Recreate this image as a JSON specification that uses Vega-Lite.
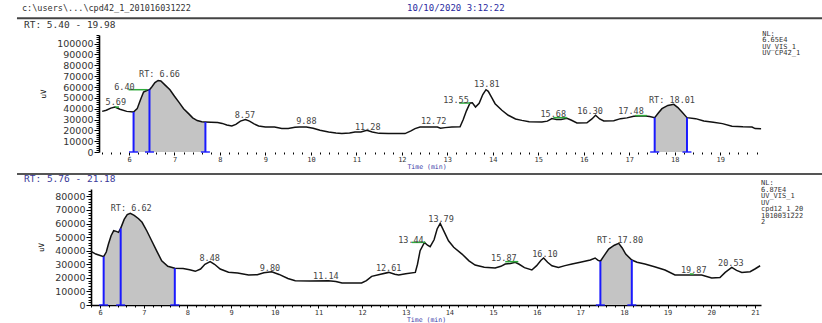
{
  "$schema": "https://vega.github.io/schema/vega-lite/v6.json",
  "background": "white",
  "padding": {"left": 15, "top": 3, "right": 0, "bottom": 0},
  "spacing": 3,
  "config": {
    "view": {"stroke": null},
    "font": "DejaVu Sans Mono",
    "axis": {"domainColor": "#000", "domainWidth": 1.6, "tickColor": "#000", "labelColor": "#333", "labelFont": "DejaVu Sans", "titleFont": "DejaVu Sans Mono", "titleFontWeight": "normal", "grid": false, "labelOverlap": false}
  },
  "datasets": {
    "top_trace": [
      {"t":5.41,"v":37500},{"t":5.5,"v":38500},{"t":5.6,"v":40500},{"t":5.69,"v":41500},{"t":5.8,"v":39500},{"t":5.95,"v":37500},{"t":6.1,"v":36900},{"t":6.18,"v":40000},{"t":6.25,"v":48000},{"t":6.32,"v":55300},{"t":6.4,"v":57000},{"t":6.45,"v":57500},{"t":6.5,"v":60000},{"t":6.57,"v":64000},{"t":6.64,"v":66000},{"t":6.7,"v":65500},{"t":6.8,"v":61500},{"t":6.9,"v":57500},{"t":7.0,"v":51500},{"t":7.1,"v":45800},{"t":7.2,"v":40000},{"t":7.31,"v":35400},{"t":7.4,"v":31500},{"t":7.5,"v":29000},{"t":7.6,"v":27900},{"t":7.68,"v":27700},{"t":7.8,"v":27500},{"t":7.95,"v":27300},{"t":8.05,"v":26400},{"t":8.15,"v":25000},{"t":8.26,"v":24000},{"t":8.35,"v":25500},{"t":8.45,"v":28500},{"t":8.56,"v":29900},{"t":8.65,"v":28500},{"t":8.75,"v":26000},{"t":8.85,"v":24000},{"t":9.0,"v":23100},{"t":9.2,"v":23000},{"t":9.36,"v":21800},{"t":9.5,"v":21800},{"t":9.65,"v":22800},{"t":9.75,"v":23100},{"t":9.9,"v":23100},{"t":10.05,"v":22000},{"t":10.2,"v":20000},{"t":10.39,"v":18500},{"t":10.55,"v":17500},{"t":10.68,"v":17000},{"t":10.85,"v":17500},{"t":10.97,"v":18500},{"t":11.1,"v":18500},{"t":11.23,"v":20000},{"t":11.35,"v":18500},{"t":11.5,"v":17200},{"t":11.7,"v":17000},{"t":12.07,"v":17000},{"t":12.2,"v":19500},{"t":12.29,"v":21600},{"t":12.4,"v":23000},{"t":12.6,"v":23100},{"t":12.78,"v":23100},{"t":12.85,"v":22000},{"t":12.95,"v":22500},{"t":13.1,"v":23000},{"t":13.28,"v":23300},{"t":13.35,"v":30000},{"t":13.42,"v":38000},{"t":13.5,"v":45200},{"t":13.55,"v":45500},{"t":13.62,"v":41500},{"t":13.7,"v":45000},{"t":13.78,"v":53000},{"t":13.85,"v":57500},{"t":13.9,"v":56000},{"t":13.98,"v":50000},{"t":14.05,"v":44600},{"t":14.2,"v":38500},{"t":14.34,"v":33900},{"t":14.5,"v":30500},{"t":14.64,"v":29200},{"t":14.8,"v":27900},{"t":15.08,"v":27700},{"t":15.2,"v":28500},{"t":15.3,"v":30800},{"t":15.4,"v":30000},{"t":15.5,"v":30000},{"t":15.63,"v":31200},{"t":15.72,"v":29500},{"t":15.85,"v":26800},{"t":16.07,"v":27000},{"t":16.18,"v":30500},{"t":16.26,"v":33900},{"t":16.35,"v":30500},{"t":16.44,"v":28600},{"t":16.66,"v":28800},{"t":16.81,"v":30800},{"t":16.95,"v":31500},{"t":17.1,"v":32900},{"t":17.3,"v":33500},{"t":17.45,"v":32800},{"t":17.56,"v":31700},{"t":17.64,"v":36000},{"t":17.72,"v":40000},{"t":17.85,"v":43000},{"t":17.98,"v":44000},{"t":18.07,"v":41000},{"t":18.16,"v":36900},{"t":18.27,"v":31700},{"t":18.46,"v":30800},{"t":18.64,"v":28600},{"t":18.85,"v":27500},{"t":19.05,"v":26200},{"t":19.26,"v":23700},{"t":19.5,"v":23200},{"t":19.7,"v":23100},{"t":19.77,"v":21600},{"t":19.9,"v":21500}
    ],
    "bottom_trace": [
      {"t":5.79,"v":39500},{"t":5.9,"v":37500},{"t":6.0,"v":36500},{"t":6.08,"v":35600},{"t":6.14,"v":39000},{"t":6.19,"v":44900},{"t":6.25,"v":51000},{"t":6.31,"v":54700},{"t":6.37,"v":54200},{"t":6.42,"v":53500},{"t":6.47,"v":56400},{"t":6.55,"v":63000},{"t":6.62,"v":66500},{"t":6.69,"v":67500},{"t":6.78,"v":66000},{"t":6.88,"v":63500},{"t":6.96,"v":60900},{"t":7.07,"v":54500},{"t":7.18,"v":47300},{"t":7.3,"v":39500},{"t":7.41,"v":32600},{"t":7.55,"v":28500},{"t":7.71,"v":27000},{"t":7.9,"v":26800},{"t":8.05,"v":26000},{"t":8.18,"v":24800},{"t":8.3,"v":26500},{"t":8.4,"v":30000},{"t":8.52,"v":31900},{"t":8.62,"v":30000},{"t":8.75,"v":26500},{"t":8.94,"v":24100},{"t":9.15,"v":23500},{"t":9.4,"v":22100},{"t":9.6,"v":22300},{"t":9.75,"v":23800},{"t":9.93,"v":24500},{"t":10.1,"v":22500},{"t":10.3,"v":19500},{"t":10.47,"v":17900},{"t":10.8,"v":17700},{"t":11.23,"v":17900},{"t":11.4,"v":17300},{"t":11.54,"v":16200},{"t":11.99,"v":16200},{"t":12.1,"v":18000},{"t":12.22,"v":21100},{"t":12.4,"v":22500},{"t":12.61,"v":24000},{"t":12.75,"v":22600},{"t":12.84,"v":22100},{"t":13.0,"v":23000},{"t":13.22,"v":24000},{"t":13.27,"v":30000},{"t":13.33,"v":40000},{"t":13.43,"v":46100},{"t":13.5,"v":44000},{"t":13.56,"v":42900},{"t":13.65,"v":48000},{"t":13.72,"v":56000},{"t":13.79,"v":60100},{"t":13.88,"v":54000},{"t":13.98,"v":47300},{"t":14.1,"v":42500},{"t":14.29,"v":37500},{"t":14.45,"v":32500},{"t":14.59,"v":29400},{"t":14.8,"v":27800},{"t":15.05,"v":27200},{"t":15.18,"v":28500},{"t":15.28,"v":30200},{"t":15.4,"v":30500},{"t":15.51,"v":31400},{"t":15.6,"v":30000},{"t":15.72,"v":27500},{"t":15.89,"v":25800},{"t":16.0,"v":29000},{"t":16.1,"v":33000},{"t":16.16,"v":34600},{"t":16.25,"v":31500},{"t":16.35,"v":28900},{"t":16.5,"v":27700},{"t":16.65,"v":29000},{"t":16.81,"v":30200},{"t":17.0,"v":31500},{"t":17.23,"v":33100},{"t":17.34,"v":34600},{"t":17.4,"v":33000},{"t":17.46,"v":32200},{"t":17.55,"v":36500},{"t":17.65,"v":41200},{"t":17.78,"v":44000},{"t":17.88,"v":45400},{"t":17.96,"v":42000},{"t":18.04,"v":37500},{"t":18.18,"v":33100},{"t":18.3,"v":31500},{"t":18.48,"v":30200},{"t":18.7,"v":28200},{"t":18.94,"v":25800},{"t":19.17,"v":22100},{"t":19.5,"v":22100},{"t":19.78,"v":22100},{"t":20.01,"v":19900},{"t":20.2,"v":20200},{"t":20.32,"v":24000},{"t":20.47,"v":27700},{"t":20.58,"v":25500},{"t":20.7,"v":24000},{"t":20.89,"v":24500},{"t":21.0,"v":26500},{"t":21.12,"v":28900}
    ],
    "top_bounds": [{"t":6.1,"v":36900},{"t":6.45,"v":57500},{"t":7.68,"v":27700},{"t":17.56,"v":31700},{"t":18.27,"v":31700}],
    "bottom_bounds": [{"t":6.08,"v":35600},{"t":6.47,"v":56400},{"t":7.71,"v":27000},{"t":17.46,"v":32200},{"t":18.18,"v":33100}],
    "top_axisline": [{"t":5.34,"t2":19.92}],
    "bottom_base": [{"t":6.08,"t2":7.71},{"t":17.46,"t2":18.18}],
    "top_green": [{"t":5.69,"t2":5.78,"v":41500},{"t":5.99,"t2":6.4,"v":57500},{"t":13.26,"t2":13.5,"v":45200},{"t":15.33,"t2":15.63,"v":31700},{"t":17.13,"t2":17.39,"v":33600}],
    "bottom_green": [{"t":13.14,"t2":13.45,"v":46100},{"t":15.28,"t2":15.58,"v":31900},{"t":19.51,"t2":19.6,"v":22800}],
    "top_labels": [
      {"label":"5.69","t":5.71,"v":46100},{"label":"6.40","t":5.9,"v":60000},{"label":"RT: 6.66","t":6.67,"v":71700},{"label":"8.57","t":8.55,"v":33900},{"label":"9.88","t":9.9,"v":28600},{"label":"11.28","t":11.25,"v":23100},{"label":"12.72","t":12.7,"v":28600},{"label":"13.55","t":13.19,"v":47700},{"label":"13.81","t":13.87,"v":62500},{"label":"15.68","t":15.33,"v":34800},{"label":"16.30","t":16.14,"v":37800},{"label":"17.48","t":17.04,"v":37800},{"label":"RT: 18.01","t":17.94,"v":47700}
    ],
    "bottom_labels": [
      {"label":"RT: 6.62","t":6.71,"v":71200},{"label":"8.48","t":8.51,"v":34400},{"label":"9.80","t":9.89,"v":27000},{"label":"11.14","t":11.17,"v":21600},{"label":"12.61","t":12.61,"v":27000},{"label":"13.44","t":13.12,"v":47800},{"label":"13.79","t":13.81,"v":63300},{"label":"15.87","t":15.25,"v":34400},{"label":"16.10","t":16.19,"v":37500},{"label":"RT: 17.80","t":17.91,"v":47800},{"label":"19.87","t":19.6,"v":25800},{"label":"20.53","t":20.45,"v":30700}
    ],
    "top_lines": [{"t":3.536,"t2":21.28,"v":123400}],
    "bottom_lines": [{"t":4.095,"t2":22.58,"v":96440}],
    "top_notes": [
      {"kind":"path","label":"c:\\users\\...\\cpd42_1_201016031222","t":3.646,"v":133300},
      {"kind":"date","label":"10/10/2020 3:12:22","t":12.115,"v":133300},
      {"kind":"rt","label":"RT: 5.40 - 19.98","t":3.69,"v":116950},
      {"kind":"side","label":"NL:\n6.65E4\nUV_VIS_1\nUV CP42_1","t":19.924,"v":112800}
    ],
    "bottom_notes": [
      {"kind":"rt","label":"RT: 5.76 - 21.18","t":4.255,"v":92760},
      {"kind":"side","label":"NL:\n6.87E4\nUV_VIS_1\nUV\ncpd12_1_20\n1010031222\n2","t":21.139,"v":92760}
    ]
  },
  "vconcat": [
    {
      "width": 671,
      "height": 117,
      "encoding": {
        "x": {"field": "t", "type": "quantitative", "scale": {"domain": [5.164, 19.92], "nice": false, "zero": false},
          "axis": {"title": "Time (min)", "domain": false, "titleColor": "#3a3aa8", "titleFontSize": 6.5, "titlePadding": 1.5, "labelFont": "DejaVu Sans Mono", "labelFontSize": 7, "labelPadding": 0,
            "values": [5.4,5.6,5.8,6,6.2,6.4,6.6,6.8,7,7.2,7.4,7.6,7.8,8,8.2,8.4,8.6,8.8,9,9.2,9.4,9.6,9.8,10,10.2,10.4,10.6,10.8,11,11.2,11.4,11.6,11.8,12,12.2,12.4,12.6,12.8,13,13.2,13.4,13.6,13.8,14,14.2,14.4,14.6,14.8,15,15.2,15.4,15.6,15.8,16,16.2,16.4,16.6,16.8,17,17.2,17.4,17.6,17.8,18,18.2,18.4,18.6,18.8,19,19.2,19.4,19.6,19.8],
            "labelExpr": "abs(datum.value - round(datum.value)) < 0.001 ? format(round(datum.value), 'd') : ''",
            "tickSize": {"condition": {"test": "abs(datum.value - round(datum.value)) < 0.001", "value": 3}, "value": 2}}},
        "y": {"field": "v", "type": "quantitative", "scale": {"domain": [0, 108000], "nice": false},
          "axis": {"title": "uV", "offset": -8, "titleFontSize": 7.5, "titlePadding": 9, "tickCount": 54, "labelFontSize": 9.5, "labelPadding": 1,
            "labelExpr": "datum.value % 10000 === 0 ? format(datum.value, 'd') : ''",
            "tickSize": {"condition": {"test": "datum.value % 10000 === 0", "value": 5}, "value": 3}}}
      },
      "layer": [
        {"data": {"name": "top_trace"}, "transform": [{"filter": {"field": "t", "range": [6.1, 7.68]}}], "mark": {"type": "area", "color": "#c4c4c4"}},
        {"data": {"name": "top_trace"}, "transform": [{"filter": {"field": "t", "range": [17.56, 18.27]}}], "mark": {"type": "area", "color": "#c4c4c4"}},
        {"data": {"name": "top_axisline"}, "mark": {"type": "rule", "color": "#000", "strokeWidth": 1.6}, "encoding": {"x2": {"field": "t2"}, "y": {"datum": 0}}},
        {"data": {"name": "top_trace"}, "mark": {"type": "line", "color": "#111", "strokeWidth": 1.5}},
        {"data": {"name": "top_bounds"}, "mark": {"type": "rule", "color": "#1a1aff", "strokeWidth": 2}, "encoding": {"y2": {"datum": 0}}},
        {"data": {"name": "top_bounds"}, "mark": {"type": "tick", "orient": "horizontal", "color": "#1a1aff", "size": 9, "thickness": 2}, "encoding": {"y": {"datum": 0}}},
        {"data": {"name": "top_green"}, "mark": {"type": "rule", "color": "#2eaa3a", "strokeWidth": 1.5}, "encoding": {"x2": {"field": "t2"}}},
        {"data": {"name": "top_labels"}, "mark": {"type": "text", "fontSize": 8.5, "color": "#444", "baseline": "middle"}, "encoding": {"text": {"field": "label"}}},
        {"data": {"name": "top_lines"}, "mark": {"type": "rule", "color": "#444", "strokeWidth": 2}, "encoding": {"x2": {"field": "t2"}}},
        {"data": {"name": "top_notes"}, "transform": [{"filter": "datum.kind === 'path'"}], "mark": {"type": "text", "fontSize": 8.5, "color": "#333", "align": "left", "baseline": "middle"}, "encoding": {"text": {"field": "label"}}},
        {"data": {"name": "top_notes"}, "transform": [{"filter": "datum.kind === 'rt'"}], "mark": {"type": "text", "fontSize": 9.5, "color": "#333", "align": "left", "baseline": "middle"}, "encoding": {"text": {"field": "label"}}},
        {"data": {"name": "top_notes"}, "transform": [{"filter": "datum.kind === 'date'"}], "mark": {"type": "text", "fontSize": 9, "color": "#2a2aa0", "align": "left", "baseline": "middle"}, "encoding": {"text": {"field": "label"}}},
        {"data": {"name": "top_notes"}, "transform": [{"filter": "datum.kind === 'side'"}], "mark": {"type": "text", "fontSize": 7, "lineHeight": 6.5, "lineBreak": "\n", "color": "#333", "align": "left", "baseline": "top"}, "encoding": {"text": {"field": "label"}}}
      ]
    },
    {
      "width": 670,
      "height": 116,
      "encoding": {
        "x": {"field": "t", "type": "quantitative", "scale": {"domain": [5.79, 21.14], "nice": false, "zero": false},
          "axis": {"title": "Time (min)", "titleColor": "#3a3aa8", "titleFontSize": 6.5, "titlePadding": 1.5, "tickCount": 77, "labelFont": "DejaVu Sans Mono", "labelFontSize": 7, "labelPadding": 0,
            "labelExpr": "abs(datum.value - round(datum.value)) < 0.001 ? format(round(datum.value), 'd') : ''",
            "tickSize": {"condition": {"test": "abs(datum.value - round(datum.value)) < 0.001", "value": 3}, "value": 2}}},
        "y": {"field": "v", "type": "quantitative", "scale": {"domain": [0, 85400], "nice": false},
          "axis": {"title": "uV", "titleFontSize": 7.5, "titlePadding": 9, "tickCount": 43, "labelFontSize": 9.5, "labelPadding": 1,
            "labelExpr": "datum.value % 10000 === 0 ? format(datum.value, 'd') : ''",
            "tickSize": {"condition": {"test": "datum.value % 10000 === 0", "value": 5}, "value": 3}}}
      },
      "layer": [
        {"data": {"name": "bottom_trace"}, "transform": [{"filter": {"field": "t", "range": [6.08, 7.71]}}], "mark": {"type": "area", "color": "#c4c4c4"}},
        {"data": {"name": "bottom_trace"}, "transform": [{"filter": {"field": "t", "range": [17.46, 18.18]}}], "mark": {"type": "area", "color": "#c4c4c4"}},
        {"data": {"name": "bottom_trace"}, "mark": {"type": "line", "color": "#111", "strokeWidth": 1.5}},
        {"data": {"name": "bottom_bounds"}, "mark": {"type": "rule", "color": "#1a1aff", "strokeWidth": 2}, "encoding": {"y2": {"datum": 0}}},
        {"data": {"name": "bottom_base"}, "mark": {"type": "rule", "color": "#1a1aff", "strokeWidth": 2}, "encoding": {"x2": {"field": "t2"}, "y": {"datum": 0}}},
        {"data": {"name": "bottom_bounds"}, "mark": {"type": "tick", "orient": "horizontal", "color": "#1a1aff", "size": 9, "thickness": 2}, "encoding": {"y": {"datum": 0}}},
        {"data": {"name": "bottom_green"}, "mark": {"type": "rule", "color": "#2eaa3a", "strokeWidth": 1.5}, "encoding": {"x2": {"field": "t2"}}},
        {"data": {"name": "bottom_labels"}, "mark": {"type": "text", "fontSize": 8.5, "color": "#444", "baseline": "middle"}, "encoding": {"text": {"field": "label"}}},
        {"data": {"name": "bottom_lines"}, "mark": {"type": "rule", "color": "#555", "strokeWidth": 2}, "encoding": {"x2": {"field": "t2"}}},
        {"data": {"name": "bottom_notes"}, "transform": [{"filter": "datum.kind === 'rt'"}], "mark": {"type": "text", "fontSize": 9.5, "color": "#3a3a9a", "align": "left", "baseline": "middle"}, "encoding": {"text": {"field": "label"}}},
        {"data": {"name": "bottom_notes"}, "transform": [{"filter": "datum.kind === 'side'"}], "mark": {"type": "text", "fontSize": 7, "lineHeight": 6.5, "lineBreak": "\n", "color": "#333", "align": "left", "baseline": "top"}, "encoding": {"text": {"field": "label"}}}
      ]
    }
  ]
}
